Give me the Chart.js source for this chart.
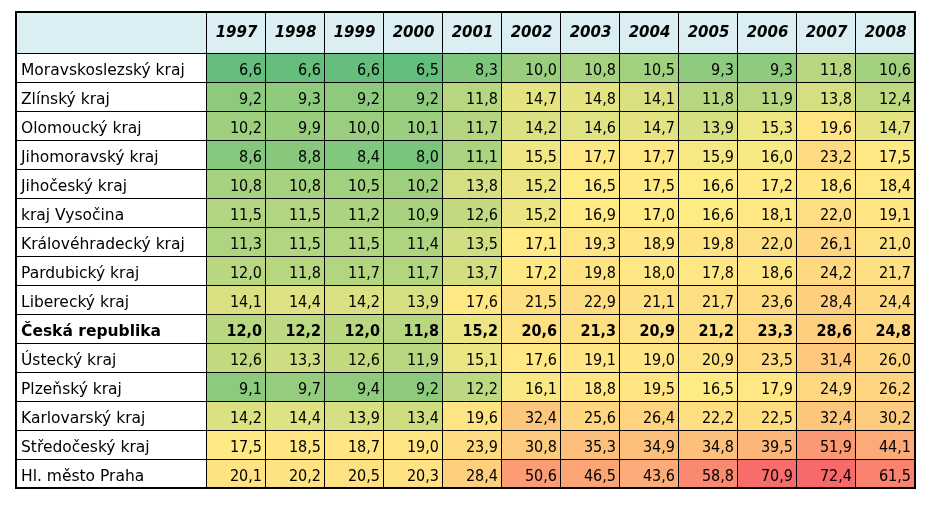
<!DOCTYPE html>
<html lang="cs">
<head>
    <meta charset="UTF-8">
    <title>Kraje 1997–2008</title>
    <script src="https://cdn.jsdelivr.net/npm/chart.js"></script>
    <style>
        html, body { margin: 0; padding: 0; background: #fff; }
        canvas { display: block; }
    </style>
</head>
<body>
    <canvas id="heatTable" width="928" height="505"></canvas>

    <script>
        // Data
        const years = ['1997', '1998', '1999', '2000', '2001', '2002', '2003', '2004', '2005', '2006', '2007', '2008'];
        const regions = [
            'Moravskoslezský kraj', 'Zlínský kraj', 'Olomoucký kraj', 'Jihomoravský kraj',
            'Jihočeský kraj', 'kraj Vysočina', 'Královéhradecký kraj', 'Pardubický kraj',
            'Liberecký kraj', 'Česká republika', 'Ústecký kraj', 'Plzeňský kraj',
            'Karlovarský kraj', 'Středočeský kraj', 'Hl. město Praha'
        ];
        const moravskoslezsky = [6.6, 6.6, 6.6, 6.5, 8.3, 10.0, 10.8, 10.5, 9.3, 9.3, 11.8, 10.6];
        const zlinsky         = [9.2, 9.3, 9.2, 9.2, 11.8, 14.7, 14.8, 14.1, 11.8, 11.9, 13.8, 12.4];
        const olomoucky       = [10.2, 9.9, 10.0, 10.1, 11.7, 14.2, 14.6, 14.7, 13.9, 15.3, 19.6, 14.7];
        const jihomoravsky    = [8.6, 8.8, 8.4, 8.0, 11.1, 15.5, 17.7, 17.7, 15.9, 16.0, 23.2, 17.5];
        const jihocesky       = [10.8, 10.8, 10.5, 10.2, 13.8, 15.2, 16.5, 17.5, 16.6, 17.2, 18.6, 18.4];
        const vysocina        = [11.5, 11.5, 11.2, 10.9, 12.6, 15.2, 16.9, 17.0, 16.6, 18.1, 22.0, 19.1];
        const kralovehradecky = [11.3, 11.5, 11.5, 11.4, 13.5, 17.1, 19.3, 18.9, 19.8, 22.0, 26.1, 21.0];
        const pardubicky      = [12.0, 11.8, 11.7, 11.7, 13.7, 17.2, 19.8, 18.0, 17.8, 18.6, 24.2, 21.7];
        const liberecky       = [14.1, 14.4, 14.2, 13.9, 17.6, 21.5, 22.9, 21.1, 21.7, 23.6, 28.4, 24.4];
        const ceskaRepublika  = [12.0, 12.2, 12.0, 11.8, 15.2, 20.6, 21.3, 20.9, 21.2, 23.3, 28.6, 24.8];
        const ustecky         = [12.6, 13.3, 12.6, 11.9, 15.1, 17.6, 19.1, 19.0, 20.9, 23.5, 31.4, 26.0];
        const plzensky        = [9.1, 9.7, 9.4, 9.2, 12.2, 16.1, 18.8, 19.5, 16.5, 17.9, 24.9, 26.2];
        const karlovarsky     = [14.2, 14.4, 13.9, 13.4, 19.6, 32.4, 25.6, 26.4, 22.2, 22.5, 32.4, 30.2];
        const stredocesky     = [17.5, 18.5, 18.7, 19.0, 23.9, 30.8, 35.3, 34.9, 34.8, 39.5, 51.9, 44.1];
        const praha           = [20.1, 20.2, 20.5, 20.3, 28.4, 50.6, 46.5, 43.6, 58.8, 70.9, 72.4, 61.5];

        const rowValues = [
            moravskoslezsky, zlinsky, olomoucky, jihomoravsky, jihocesky, vysocina,
            kralovehradecky, pardubicky, liberecky, ceskaRepublika, ustecky, plzensky,
            karlovarsky, stredocesky, praha
        ];
        const boldRow = 9; // Česká republika

        // Layout / style
        const LABEL_W = 191;
        const HEAD_H = 41;
        const LABEL_FONT = '"DejaVu Sans", sans-serif';
        const NUM_FONT = '"DejaVu Sans Condensed", "DejaVu Sans", sans-serif';

        // Excel-like 3 colour scale: min / 50th percentile / max
        const allValues = rowValues.flat().sort((a, b) => a - b);
        const vMin = allValues[0];
        const vMax = allValues[allValues.length - 1];
        const pos = (allValues.length - 1) * 0.5;
        const vMid = allValues[Math.floor(pos)] + (allValues[Math.ceil(pos)] - allValues[Math.floor(pos)]) * (pos - Math.floor(pos));

        const green = [99, 190, 123], yellow = [255, 235, 132], red = [248, 105, 107];

        function mix(c1, c2, t) {
            return 'rgb(' + c1.map((c, k) => Math.round(c + (c2[k] - c) * t)).join(',') + ')';
        }

        function cellColor(v) {
            if (v <= vMid) return mix(green, yellow, (v - vMin) / (vMid - vMin));
            return mix(yellow, red, (v - vMid) / (vMax - vMid));
        }

        function formatValue(v) {
            return v.toFixed(1).replace('.', ',');
        }

        // Labels, header, values and grid lines
        const tablePlugin = {
            id: 'tablePlugin',
            beforeDatasetsDraw(chart) {
                const { ctx, chartArea: a } = chart;
                ctx.save();
                ctx.fillStyle = '#DAEEF3';
                ctx.fillRect(a.left - LABEL_W, a.top - HEAD_H, a.right - a.left + LABEL_W, HEAD_H);
                ctx.restore();
            },
            afterDatasetsDraw(chart) {
                const { ctx, chartArea: a, scales: { x, y } } = chart;
                const left = a.left - LABEL_W;
                const top = a.top - HEAD_H;
                const colW = x.getPixelForValue(1) - x.getPixelForValue(0);

                ctx.save();
                ctx.fillStyle = '#000';

                // header
                ctx.font = 'italic bold 15px ' + LABEL_FONT;
                ctx.textAlign = 'center';
                ctx.textBaseline = 'middle';
                years.forEach((yr, j) => {
                    ctx.fillText(yr, x.getPixelForValue(j), top + HEAD_H / 2 + 1);
                });

                // rows
                ctx.textBaseline = 'alphabetic';
                regions.forEach((name, i) => {
                    const yb = y.getPixelForValue(i + 1);
                    const bold = i === boldRow ? 'bold ' : '';
                    ctx.font = bold + '15.5px ' + LABEL_FONT;
                    ctx.textAlign = 'left';
                    ctx.fillText(name, left + 5, yb - 7);
                    ctx.font = bold + '16px ' + NUM_FONT;
                    ctx.textAlign = 'right';
                    rowValues[i].forEach((v, j) => {
                        ctx.fillText(formatValue(v), x.getPixelForValue(j) + colW / 2 - 4, yb - 7);
                    });
                });

                // grid lines
                ctx.strokeStyle = '#000';
                ctx.lineWidth = 1;
                ctx.beginPath();
                for (let k = 0; k <= regions.length; k++) {
                    const py = Math.round(y.getPixelForValue(k)) + 0.5;
                    ctx.moveTo(left, py);
                    ctx.lineTo(a.right, py);
                }
                const xs = [a.left].concat(years.map((_, j) => x.getPixelForValue(j) + colW / 2));
                xs.forEach(px => {
                    const p = Math.round(px) - 0.5;
                    ctx.moveTo(p, top);
                    ctx.lineTo(p, a.bottom);
                });
                ctx.stroke();

                // outer frame
                ctx.lineWidth = 2;
                ctx.strokeRect(left, top, a.right - left, a.bottom - top);
                ctx.restore();
            }
        };

        // One floating-bar dataset per region row
        const datasets = regions.map((name, i) => ({
            label: name,
            data: years.map(() => [i, i + 1]),
            backgroundColor: rowValues[i].map(cellColor),
            borderWidth: 0,
            barPercentage: 1,
            categoryPercentage: 1,
            grouped: false
        }));

        new Chart(document.getElementById('heatTable'), {
            type: 'bar',
            data: { labels: years, datasets },
            options: {
                responsive: false,
                animation: false,
                layout: { padding: { left: 16 + LABEL_W, top: 12 + HEAD_H, right: 13, bottom: 17 } },
                plugins: {
                    legend: { display: false },
                    tooltip: { enabled: false }
                },
                scales: {
                    x: { type: 'category', display: false },
                    y: { type: 'linear', display: false, min: 0, max: regions.length, reverse: true }
                }
            },
            plugins: [tablePlugin]
        });
    </script>
</body>
</html>
